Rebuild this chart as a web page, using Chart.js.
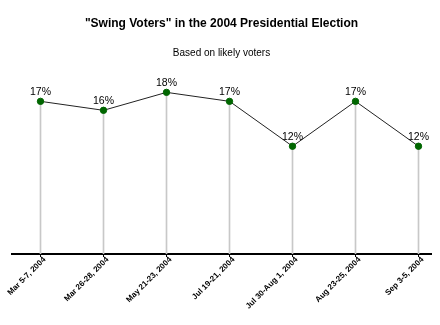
<!doctype html>
<html>
<head>
<meta charset="utf-8">
<script src="https://cdn.jsdelivr.net/npm/chart.js"></script>
<style>
  html, body { margin: 0; padding: 0; background: #fff; }
  #wrap { width: 440px; height: 325px; }
</style>
</head>
<body>
<div id="wrap"><canvas id="swingChart" width="440" height="325"></canvas></div>
<script>
// poll dates and share of swing voters (%)
const pollDates = [
    "Mar 5-7, 2004",
    "Mar 26-28, 2004",
    "May 21-23, 2004",
    "Jul 19-21, 2004",
    "Jul 30-Aug 1, 2004",
    "Aug 23-25, 2004",
    "Sep 3-5, 2004",
];
const swingPct = [17, 16, 18, 17, 12, 17, 12];

const points = swingPct.map((v, i) => ({ x: i, y: v }));

const X_MIN = -0.4524;
const X_MAX = 6.1984;
const LABEL_SHIFT = 0.0635; // nudges the slanted date labels a few px right

// writes "17%" etc. above each point
const valueLabels = {
    id: "valueLabels",
    afterDatasetsDraw(chart) {
        const ctx = chart.ctx;
        const meta = chart.getDatasetMeta(0);
        ctx.save();
        ctx.font = "10.5px 'Liberation Sans', Arial, sans-serif";
        ctx.fillStyle = "#000";
        ctx.textAlign = "center";
        ctx.textBaseline = "alphabetic";
        meta.data.forEach((pt, i) => {
            ctx.fillText(swingPct[i] + "%", pt.x, pt.y - 6);
        });
        ctx.restore();
    },
};

const fixTicks = (scale) => {
    scale.ticks = pollDates.map((_, i) => ({ value: i }));
};

new Chart(document.getElementById("swingChart"), {
    data: {
        datasets: [
            {
                type: "line",
                data: points,
                borderColor: "#222",
                borderWidth: 1,
                pointBackgroundColor: "#006600",
                pointBorderColor: "#006600",
                pointRadius: 3.2,
                tension: 0,
                order: 0,
                clip: false,
            },
            {
                type: "bar",
                data: points,
                backgroundColor: "#c8c8c8",
                barThickness: 1,
                order: 1,
            },
        ],
    },
    options: {
        responsive: false,
        animation: false,
        layout: { padding: { left: 12, right: 9, top: 0, bottom: 0 } },
        plugins: {
            legend: { display: false },
            tooltip: { enabled: false },
            title: {
                display: true,
                text: '"Swing Voters" in the 2004 Presidential Election',
                color: "#000",
                font: { family: "'Liberation Sans', Arial, sans-serif", size: 12, weight: "bold", lineHeight: 1.2 },
                padding: { top: 16, bottom: 17 },
            },
            subtitle: {
                display: true,
                text: "Based on likely voters",
                color: "#000",
                font: { family: "'Liberation Sans', Arial, sans-serif", size: 10, lineHeight: 1.2 },
                padding: { top: 0, bottom: 15 },
            },
        },
        scales: {
            x: {
                type: "linear",
                offset: false,
                weight: 0,
                min: X_MIN,
                max: X_MAX,
                afterBuildTicks: fixTicks,
                afterFit(scale) {
                    scale.height = 0;
                    scale.paddingLeft = 0;
                    scale.paddingRight = 0;
                },
                ticks: { display: false, autoSkip: false },
                grid: {
                    offset: false,
                    drawOnChartArea: false,
                    color: "#000",
                    tickLength: 3,
                },
                border: { color: "#000", width: 2 },
            },
            // label-only axis for the dates
            xLabels: {
                type: "linear",
                position: "bottom",
                offset: false,
                weight: 1,
                min: X_MIN - LABEL_SHIFT,
                max: X_MAX - LABEL_SHIFT,
                afterBuildTicks: fixTicks,
                afterFit(scale) {
                    scale.height = 71;
                    scale.paddingLeft = 0;
                    scale.paddingRight = 0;
                },
                ticks: {
                    autoSkip: false,
                    minRotation: 45,
                    maxRotation: 45,
                    color: "#000",
                    padding: 1,
                    font: { family: "'Liberation Sans', Arial, sans-serif", size: 8, weight: "bold" },
                    callback: (v) => pollDates[v],
                },
                grid: { display: false, drawTicks: false },
                border: { display: false },
            },
            y: {
                display: false,
                min: 0,
                max: 20,
            },
        },
    },
    plugins: [valueLabels],
});
</script>
</body>
</html>
